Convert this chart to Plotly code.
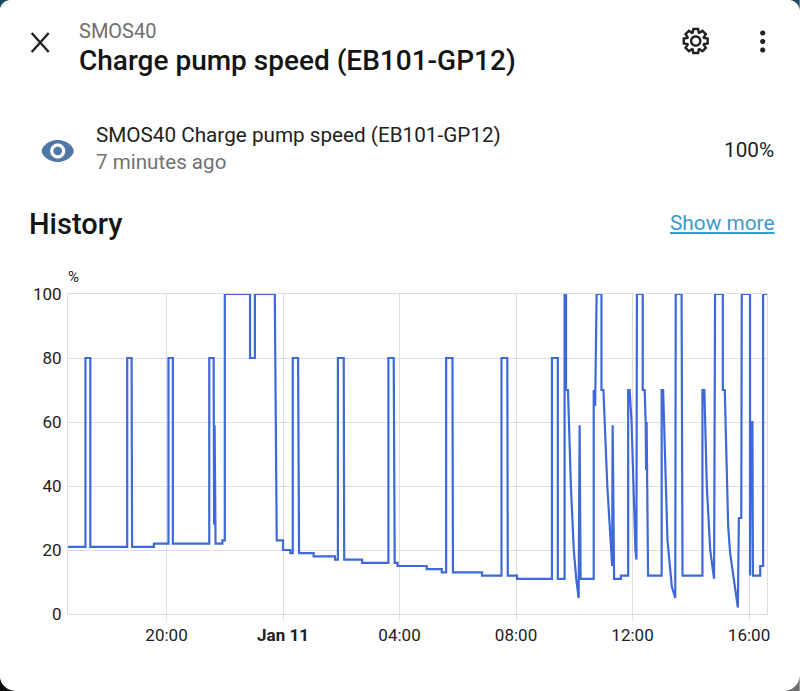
import numpy as np
import plotly.graph_objects as go

# reading history, jan 10 afternoon to jan 11 afternoon
times = [
    "01-10 16:37", "01-10 17:13", "01-10 17:13", "01-10 17:23", "01-10 17:23", "01-10 18:39", "01-10 18:39",
    "01-10 18:48", "01-10 18:49", "01-10 19:34", "01-10 19:34", "01-10 20:04", "01-10 20:04", "01-10 20:13",
    "01-10 20:13", "01-10 21:28", "01-10 21:28", "01-10 21:37", "01-10 21:38", "01-10 21:39", "01-10 21:41",
    "01-10 21:55", "01-10 21:55", "01-10 22:00", "01-10 22:00", "01-10 22:52", "01-10 22:52", "01-10 23:02",
    "01-10 23:02", "01-10 23:43", "01-10 23:47", "01-11 00:00", "01-11 00:00", "01-11 00:15", "01-11 00:15",
    "01-11 00:20", "01-11 00:20", "01-11 00:31", "01-11 00:33", "01-11 01:03", "01-11 01:03", "01-11 01:47",
    "01-11 01:47", "01-11 01:53", "01-11 01:53", "01-11 02:05", "01-11 02:06", "01-11 02:43", "01-11 02:43",
    "01-11 03:37", "01-11 03:37", "01-11 03:48", "01-11 03:50", "01-11 03:56", "01-11 03:56", "01-11 04:56",
    "01-11 04:56", "01-11 05:27", "01-11 05:27", "01-11 05:36", "01-11 05:36", "01-11 05:49", "01-11 05:50",
    "01-11 06:50", "01-11 06:50", "01-11 07:30", "01-11 07:30", "01-11 07:42", "01-11 07:43", "01-11 08:02",
    "01-11 08:02", "01-11 09:14", "01-11 09:14", "01-11 09:26", "01-11 09:26", "01-11 09:40", "01-11 09:40",
    "01-11 09:43", "01-11 09:43", "01-11 09:47", "01-11 09:50", "01-11 09:53", "01-11 09:59", "01-11 10:04",
    "01-11 10:09", "01-11 10:11", "01-11 10:13", "01-11 10:40", "01-11 10:40", "01-11 10:43", "01-11 10:46",
    "01-11 10:56", "01-11 10:56", "01-11 11:00", "01-11 11:08", "01-11 11:16", "01-11 11:18", "01-11 11:19",
    "01-11 11:22", "01-11 11:36", "01-11 11:36", "01-11 11:51", "01-11 11:51", "01-11 11:54", "01-11 11:58",
    "01-11 12:06", "01-11 12:08", "01-11 12:09", "01-11 12:21", "01-11 12:21", "01-11 12:25", "01-11 12:27",
    "01-11 12:28", "01-11 12:29", "01-11 12:32", "01-11 13:00", "01-11 13:00", "01-11 13:03", "01-11 13:08",
    "01-11 13:12", "01-11 13:21", "01-11 13:28", "01-11 13:29", "01-11 13:41", "01-11 13:43", "01-11 14:24",
    "01-11 14:24", "01-11 14:28", "01-11 14:33", "01-11 14:40", "01-11 14:48", "01-11 14:50", "01-11 15:06",
    "01-11 15:06", "01-11 15:10", "01-11 15:14", "01-11 15:17", "01-11 15:21", "01-11 15:37", "01-11 15:39",
    "01-11 15:44", "01-11 15:45", "01-11 16:02", "01-11 16:02", "01-11 16:04", "01-11 16:07", "01-11 16:08",
    "01-11 16:23", "01-11 16:23", "01-11 16:29", "01-11 16:29", "01-11 16:37",
]
speed = [
    21, 21, 80, 80, 21, 21, 80,
    80, 21, 21, 22, 22, 80, 80,
    22, 22, 80, 80, 28, 59, 22,
    22, 23, 23, 100, 100, 80, 80,
    100, 100, 23, 23, 20, 20, 19,
    19, 80, 80, 19, 19, 18, 18,
    17, 17, 80, 80, 17, 17, 16,
    16, 80, 80, 16, 16, 15, 15,
    14, 14, 13, 13, 80, 80, 13,
    13, 12, 12, 80, 80, 12, 12,
    11, 11, 80, 80, 11, 11, 100,
    100, 70, 70, 55, 40, 20, 11,
    5, 59, 11, 11, 70, 65, 100,
    100, 70, 70, 40, 20, 15, 59,
    11, 11, 12, 12, 70, 70, 60,
    20, 17, 100, 100, 70, 70, 60,
    45, 60, 12, 12, 70, 70, 40,
    23, 8.5, 5, 100, 100, 12, 12,
    70, 70, 40, 20, 11, 100, 100,
    70, 70, 40, 27.5, 19, 2, 30,
    30, 100, 100, 12, 60, 60, 12,
    12, 15, 15, 100, 100,
]
tick_times = ["2024-01-10 20:00", "2024-01-11 00:00", "2024-01-11 04:00", "2024-01-11 08:00", "2024-01-11 12:00", "2024-01-11 16:00"]
tick_labels = ["20:00", "<b>Jan 11</b>", "04:00", "08:00", "12:00", "16:00"]
y_ticks = [0, 20, 40, 60, 80, 100]

W, H = 800, 691
LEFT, RIGHT, TOP, BOTTOM = 68.3, 767.3, 294, 614
FONT = "Roboto"


def px(x):
    return (x - LEFT) / (RIGHT - LEFT)


def py(y):
    return (BOTTOM - y) / (BOTTOM - TOP)


def path(points, close=True):
    d = "M" + " L".join(f"{px(x):.5f},{py(y):.5f}" for x, y in points)
    return d + (" Z" if close else "")


def circle(cx, cy, r, n=40):
    a = np.linspace(0, 2 * np.pi, n, endpoint=False)
    return list(zip(cx + r * np.cos(a), cy + r * np.sin(a)))


def shape(points, fill=None, line=None, width=0, close=True):
    return dict(type="path", xref="paper", yref="paper", path=path(points, close), layer="below",
                fillcolor=fill or "rgba(0,0,0,0)", line=dict(color=line or "rgba(0,0,0,0)", width=width))


def label(x, y, text, size, color="#212121", anchor="left", weight=None):
    shift = {"left": -2, "right": 2, "center": 0}[anchor]
    return dict(x=px(x), y=py(y), xref="paper", yref="paper", text=text, showarrow=False, xanchor=anchor,
                xshift=shift, yanchor="middle", font=dict(family=FONT, size=size, color=color, weight=weight))


def gear(cx, cy):
    # 8 teeth outline
    pts = []
    for i in range(8):
        a = i * np.pi / 4 - np.pi / 2
        for da, r in [(-0.36, 8.8), (-0.2, 12.2), (0.2, 12.2), (0.36, 8.8)]:
            pts.append((cx + r * np.cos(a + da), cy + r * np.sin(a + da)))
    return pts


def eye(cx, cy, rx, ry):
    a = np.linspace(0, 2 * np.pi, 60, endpoint=False)
    return list(zip(cx + rx * np.cos(a), cy + ry * np.sign(np.sin(a)) * np.abs(np.sin(a)) ** 1.2))


def corner(x0, y0, xc, yc, r, a0):
    a = np.linspace(a0, a0 + np.pi / 2, 12)
    return [(x0, y0)] + list(zip(xc + r * np.cos(a), yc + r * np.sin(a)))


shapes = [
    shape(corner(0, 0, 11, 11, 11, np.pi), fill="#1d4a5e"),
    shape(corner(W, 0, W - 11, 11, 11, -np.pi / 2), fill="#1d4a5e"),
    shape(corner(0, H, 16, H - 16, 16, np.pi / 2), fill="#0a0a0a"),
    shape(corner(W, H, W - 16, H - 16, 16, 0), fill="#6e6e6e"),
    # close button
    shape([(32, 33), (49, 52)], line="#212121", width=2.4, close=False),
    shape([(49, 33), (32, 52)], line="#212121", width=2.4, close=False),
    # gear
    shape(gear(696, 41), line="#212121", width=2.4),
    shape(circle(696, 41, 4.6), line="#212121", width=2.4),
    # eye
    shape(eye(58, 151, 16, 11), fill="#4f77a5"),
    shape(circle(58, 151, 7.5), fill="white"),
    shape(circle(58, 151, 4.3), fill="#4f77a5"),
]
for dy in [33, 41.5, 50]:
    shapes.append(shape(circle(763, dy, 2.6), fill="#212121"))

annotations = [
    label(79, 31, "SMOS40", 20, "#6f6f6f"),
    label(79, 60, "Charge pump speed (EB101-GP12)", 28, "#141414", weight=500),
    label(96, 135, "SMOS40 Charge pump speed (EB101-GP12)", 20.7, "#212121"),
    label(96, 162, "7 minutes ago", 20.6, "#727272"),
    label(774, 150, "100%", 20.7, "#212121", anchor="right"),
    label(29, 224, "History", 29, "#141414", weight=500),
    label(774, 223, "<u>Show more</u>", 20.8, "#3a9bc9", anchor="right"),
    label(74, 277, "%", 15, "#212121", anchor="center"),
]

fig = go.Figure(go.Scatter(
    x=["2024-" + t for t in times],
    y=speed,
    mode="lines",
    line=dict(color="#3e69d6", width=2.2),
))

fig.update_layout(
    width=W,
    height=H,
    margin=dict(l=LEFT, r=W - RIGHT, t=TOP, b=H - BOTTOM, pad=0),
    paper_bgcolor="white",
    plot_bgcolor="white",
    showlegend=False,
    font=dict(family=FONT, size=17, color="#212121"),
    shapes=shapes,
    annotations=annotations,
    xaxis=dict(
        range=["2024-01-10 16:37", "2024-01-11 16:37"],
        tickmode="array",
        tickvals=tick_times,
        ticktext=tick_labels,
        showgrid=True,
        gridcolor="#dedede",
        gridwidth=1,
        ticks="outside",
        ticklen=6,
        tickcolor="#dedede",
        showline=True,
        linecolor="#dedede",
        mirror=True,
        zeroline=False,
    ),
    yaxis=dict(
        range=[0, 100],
        tickvals=y_ticks,
        showgrid=True,
        gridcolor="#dedede",
        gridwidth=1,
        ticks="",
        ticklabelstandoff=2,
        showline=True,
        linecolor="#dedede",
        mirror=True,
        zeroline=False,
    ),
)

fig.write_html("out.html", config={"displayModeBar": False},
               post_script="document.body.style.margin='0';document.body.style.overflow='hidden';")
